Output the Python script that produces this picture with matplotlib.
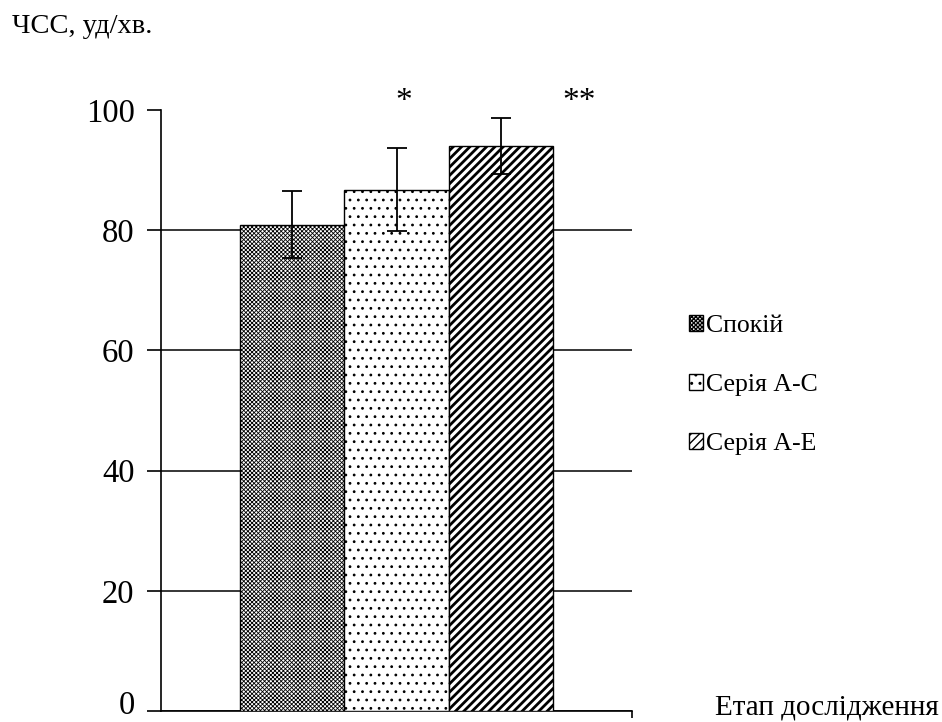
import matplotlib
matplotlib.use("Agg")
import matplotlib.pyplot as plt
import matplotlib.transforms as mtransforms
import numpy as np

# ---- data ----
categories = ["Спокій", "Серія А-С", "Серія А-Е"]
values = [80.9, 86.7, 94.0]
errors = [5.6, 6.9, 4.7]
significance = ["", "*", "**"]
y_ticks = [0, 20, 40, 60, 80, 100]

plt.rcParams['font.family'] = ['Liberation Serif', 'DejaVu Serif']

W, H = 942, 722
fig = plt.figure(figsize=(W / 100, H / 100), dpi=100)
ax = fig.add_axes([161 / W, (H - 711) / H, (632 - 161) / W, (711 - 110) / H])

hatches = ['xxxxxxxx', '..', '////']
hatch_lw = [0.6, 0.8, 2.0]
x = np.arange(len(categories))
for i, (cat, v, e) in enumerate(zip(categories, values, errors)):
    with plt.rc_context({'hatch.linewidth': hatch_lw[i], 'hatch.color': 'black'}):
        bars = ax.bar(x[i], v, width=1.0, color='white', edgecolor='black',
                      linewidth=1.0, hatch=hatches[i], label=cat, zorder=3)
    for b in bars:
        try:
            b.set_hatch_linewidth(hatch_lw[i])
        except Exception:
            pass
    ax.errorbar(x[i], v, yerr=e, color='black', capsize=7, elinewidth=1.3,
                capthick=1.3, zorder=4)

# significance marks
sig_dx = [0.0, 0.07, 0.75]
for i, s in enumerate(significance):
    if s:
        ax.text(x[i] + sig_dx[i], 101.3, s, ha='center', va='center', fontsize=24,
                clip_on=False)

ax.set_xlim(-1.257, 3.257)
ax.set_ylim(0, 100)
ax.set_yticks(y_ticks)
ax.set_yticklabels([str(t) for t in y_ticks], fontsize=23.5)
ax.tick_params(axis='y', direction='out', length=10, width=1.2, pad=9)
# nudge the bottom label up so it stays inside the canvas
lbl0 = ax.get_yticklabels()[0]
lbl0.set_transform(lbl0.get_transform() +
                   mtransforms.ScaledTranslation(0, 9 / 100, fig.dpi_scale_trans))
ax.set_xticks([3.257])
ax.set_xticklabels([])
ax.tick_params(axis='x', direction='out', length=5, width=1.2)
ax.yaxis.grid(True, color='black', linewidth=1.1, zorder=0)
ax.get_ygridlines()[-1].set_visible(False)
for sp in ['top', 'right']:
    ax.spines[sp].set_visible(False)
for sp in ['left', 'bottom']:
    ax.spines[sp].set_linewidth(1.2)

leg = fig.legend(loc='center left', bbox_to_anchor=(679 / W, 1 - 385 / H),
                 frameon=False, fontsize=18.5, handlelength=0.55, handleheight=0.55,
                 handletextpad=0.12, labelspacing=1.44, borderaxespad=0)

fig.text(12 / W, 1 - 33 / H, "ЧСС, уд/хв.", fontsize=20.5, ha='left', va='baseline')
fig.text(715 / W, 1 - 715 / H, "Етап дослідження", fontsize=21, ha='left', va='baseline')

fig.savefig("out.png", dpi=100)
